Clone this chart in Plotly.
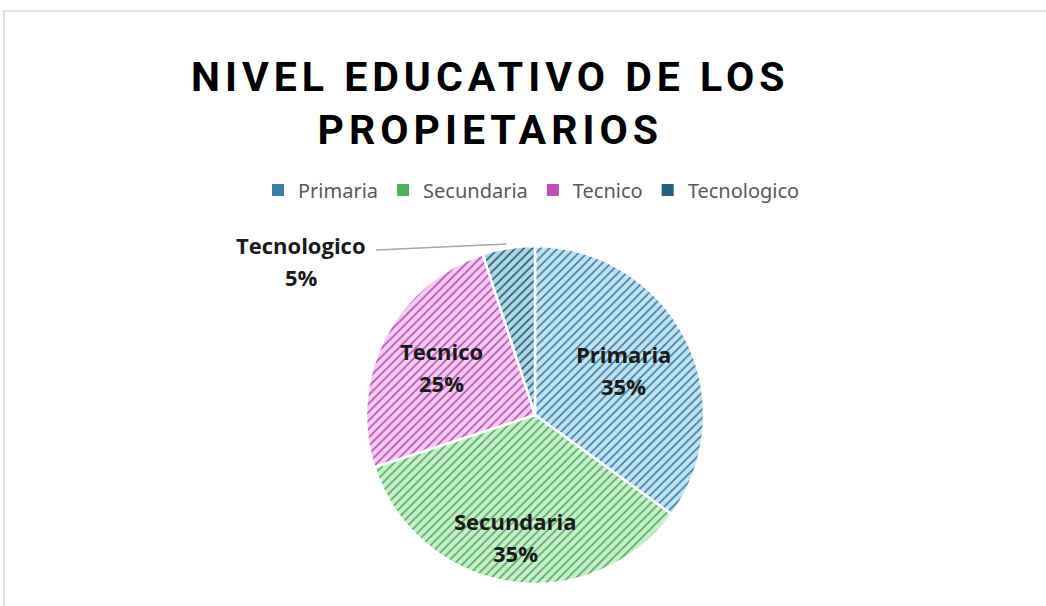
import plotly.graph_objects as go
import numpy as np

labels = ["Primaria", "Secundaria", "Tecnico", "Tecnologico"]
values = [35, 35, 25, 5]
fill_colors = ["#c0e2f1", "#c8eecb", "#f4cbf2", "#b3d6e5"]
line_colors = ["#3b80a3", "#4fb05c", "#bb4fb5", "#225f7b"]
legend_colors = ["#3b80a3", "#4fb05c", "#bb4fb5", "#225f7b"]

W, H = 1046, 606
cx, cy, r = 535, 415, 169  # pie centre/radius in pixels

fig = go.Figure()

fig.add_trace(go.Pie(
    labels=labels,
    values=values,
    sort=False,
    direction="clockwise",
    rotation=0,
    textinfo="none",
    hoverinfo="label+percent",
    marker=dict(
        colors=fill_colors,
        line=dict(color="white", width=2.5),
        pattern=dict(shape="/", fgcolor=line_colors, bgcolor=fill_colors,
                     size=6, solidity=0.27, fillmode="replace"),
    ),
    domain=dict(x=[(cx - r) / W, (cx + r) / W], y=[(H - cy - r) / H, (H - cy + r) / H]),
    showlegend=False,
))

# legend drawn as separate marker traces so that the swatches are small squares
for lab, col in zip(labels, legend_colors):
    fig.add_trace(go.Scatter(
        x=[None], y=[None], mode="markers", name=lab,
        marker=dict(symbol="square", size=8, color=col),
    ))

label_font = dict(family="Open Sans", size=22, color="#1a1a1a")


def add_label(px, py, name, pct):
    for txt, dy in ((name, -16), (pct, 16)):
        fig.add_annotation(x=px / W, y=1 - (py + dy) / H, xref="paper", yref="paper",
                           xanchor="center", yanchor="middle",
                           text=f"<b>{txt}</b>", showarrow=False, font=label_font)


# data labels computed from the slice angles
total = sum(values)
cum = np.cumsum([0] + values)
label_r = [0.59, 0.73, 0.62]
for i, lab in enumerate(labels):
    pct = f"{round(values[i] / total * 100)}%"
    mid = (cum[i] + values[i] / 2) / total * 2 * np.pi
    if i < 3:
        px = cx + label_r[i] * r * np.sin(mid)
        py = cy - label_r[i] * r * np.cos(mid)
        add_label(px, py, lab, pct)
    else:
        ex = cx + r * np.sin(mid) - 2
        ey = cy - r * np.cos(mid) - 4
        lx, ly = 376, 250
        fig.add_shape(type="line", xref="paper", yref="paper",
                      x0=lx / W, y0=1 - ly / H, x1=ex / W, y1=1 - ey / H,
                      line=dict(color="#a6a6a6", width=1.5))
        add_label(301, 261, lab, pct)

# chart frame
fig.add_shape(type="rect", xref="paper", yref="paper",
              x0=4 / W, x1=1.02, y0=-0.02, y1=1 - 11 / H,
              line=dict(color="#d9d9d9", width=1.5))

fig.add_annotation(
    x=490 / W, y=1 - 104 / H, xref="paper", yref="paper", showarrow=False,
    xanchor="center", yanchor="middle",
    text="<span style='letter-spacing:5px'><b>NIVEL EDUCATIVO DE LOS<br>PROPIETARIOS</b></span>",
    font=dict(family="Roboto", size=41, color="#000000"),
)

fig.update_layout(
    width=W, height=H,
    margin=dict(l=0, r=0, t=0, b=0),
    paper_bgcolor="white",
    plot_bgcolor="white",
    xaxis=dict(visible=False, range=[0, 1]),
    yaxis=dict(visible=False, range=[0, 1]),
    legend=dict(orientation="h", x=258 / W, xanchor="left", y=1 - 190 / H, yanchor="middle",
                font=dict(family="Noto Sans", size=20, color="#595959"),
                traceorder="normal", itemsizing="constant"),
)

fig.write_html("out.html", config={"displayModeBar": False},
               post_script="document.body.style.margin='0';")
